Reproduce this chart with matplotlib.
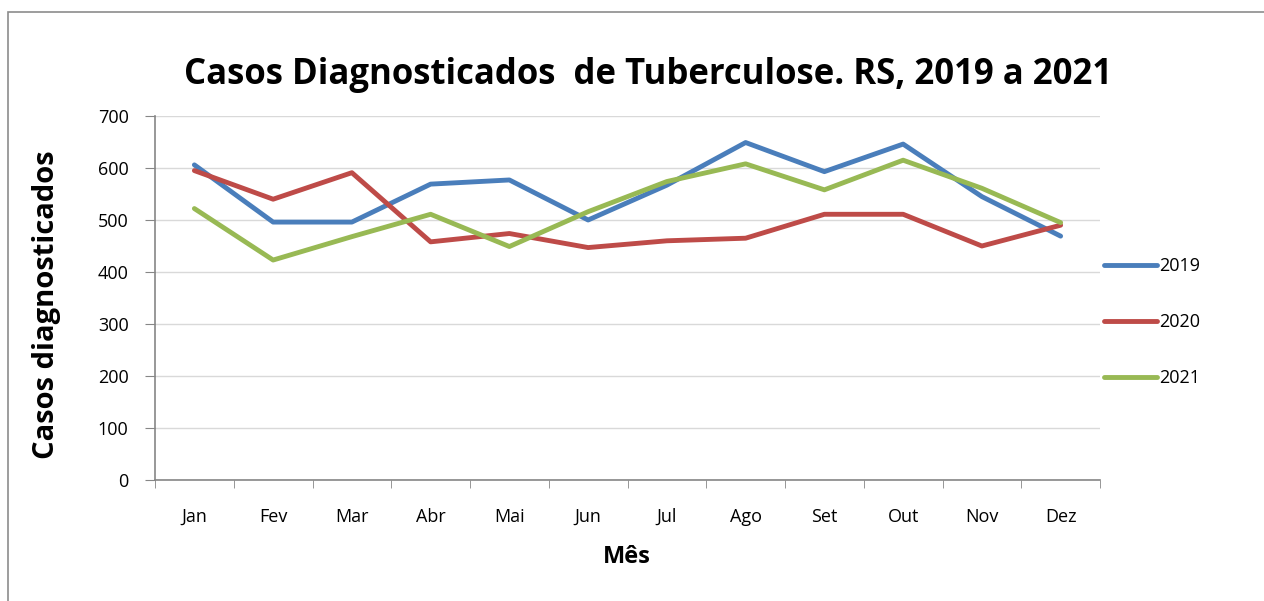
import matplotlib.pyplot as plt
from matplotlib.patches import Rectangle
from matplotlib.lines import Line2D
import numpy as np

# dados
meses = ['Jan', 'Fev', 'Mar', 'Abr', 'Mai', 'Jun', 'Jul', 'Ago', 'Set', 'Out', 'Nov', 'Dez']
casos_2019 = [606, 496, 496, 569, 577, 500, 567, 649, 593, 646, 545, 469]
casos_2020 = [595, 540, 591, 458, 474, 447, 460, 465, 511, 511, 450, 490]
casos_2021 = [522, 423, 468, 511, 449, 516, 574, 608, 558, 615, 561, 495]

series = [('2019', casos_2019, '#4a7ebb'),
          ('2020', casos_2020, '#be4b48'),
          ('2021', casos_2021, '#98b954')]

plt.rcParams['font.family'] = ['Open Sans', 'DejaVu Sans']

fig = plt.figure(figsize=(12.64, 6.01), dpi=100)
W, H = 1264, 601
# plot area in pixels: left 155, right 1100, top 116, bottom 480
ax = fig.add_axes([155 / W, 1 - 480 / H, (1100 - 155) / W, (480 - 116) / H])

# moldura do grafico
fig.patches.append(Rectangle((8 / W, -0.02), 1.1, 1 - 12 / H + 0.02, transform=fig.transFigure,
                             fill=False, edgecolor='#8c8c8c', linewidth=1.2))

x = np.arange(len(meses))
for nome, vals, cor in series:
    ax.plot(x, vals, color=cor, linewidth=3.5, solid_capstyle='round', label=nome)

ax.set_xlim(-0.5, len(meses) - 0.5)
ax.set_ylim(0, 700)
ax.set_yticks(np.arange(0, 701, 100))
ax.set_xticks(x)
ax.set_xticklabels(meses)
ax.set_xticks(np.arange(-0.5, len(meses), 1), minor=True)
ax.tick_params(axis='x', which='major', length=0, pad=20, labelsize=13, colors='black')
ax.tick_params(axis='x', which='minor', length=6, color='#868686', direction='out')
ax.tick_params(axis='y', length=7, color='#868686', labelsize=13, pad=12)

ax.grid(axis='y', color='#d9d9d9', linewidth=1)
ax.set_axisbelow(True)
for s in ['top', 'right']:
    ax.spines[s].set_visible(False)
for s in ['left', 'bottom']:
    ax.spines[s].set_color('#868686')
    ax.spines[s].set_linewidth(1.2)

fig.text(648 / W, 1 - 75 / H, 'Casos Diagnosticados  de Tuberculose. RS, 2019 a 2021',
         ha='center', va='center', fontsize=25, fontweight='bold')
fig.text(47 / W, 1 - 305 / H, 'Casos diagnosticados', rotation=90,
         ha='center', va='center', fontsize=21, fontweight='bold')
fig.text(627 / W, 1 - 557 / H, 'Mês', ha='center', va='center', fontsize=17, fontweight='bold')

handles = [Line2D([], [], color=c, linewidth=3.5, solid_capstyle='round') for _, _, c in series]
fig.legend(handles, [s[0] for s in series], loc='center left',
           bbox_to_anchor=(1088 / W, 1 - 322 / H), frameon=False, fontsize=13,
           handlelength=2.9, handletextpad=0.15, labelspacing=2.1)

fig.savefig('out.png', dpi=100, facecolor='white')
